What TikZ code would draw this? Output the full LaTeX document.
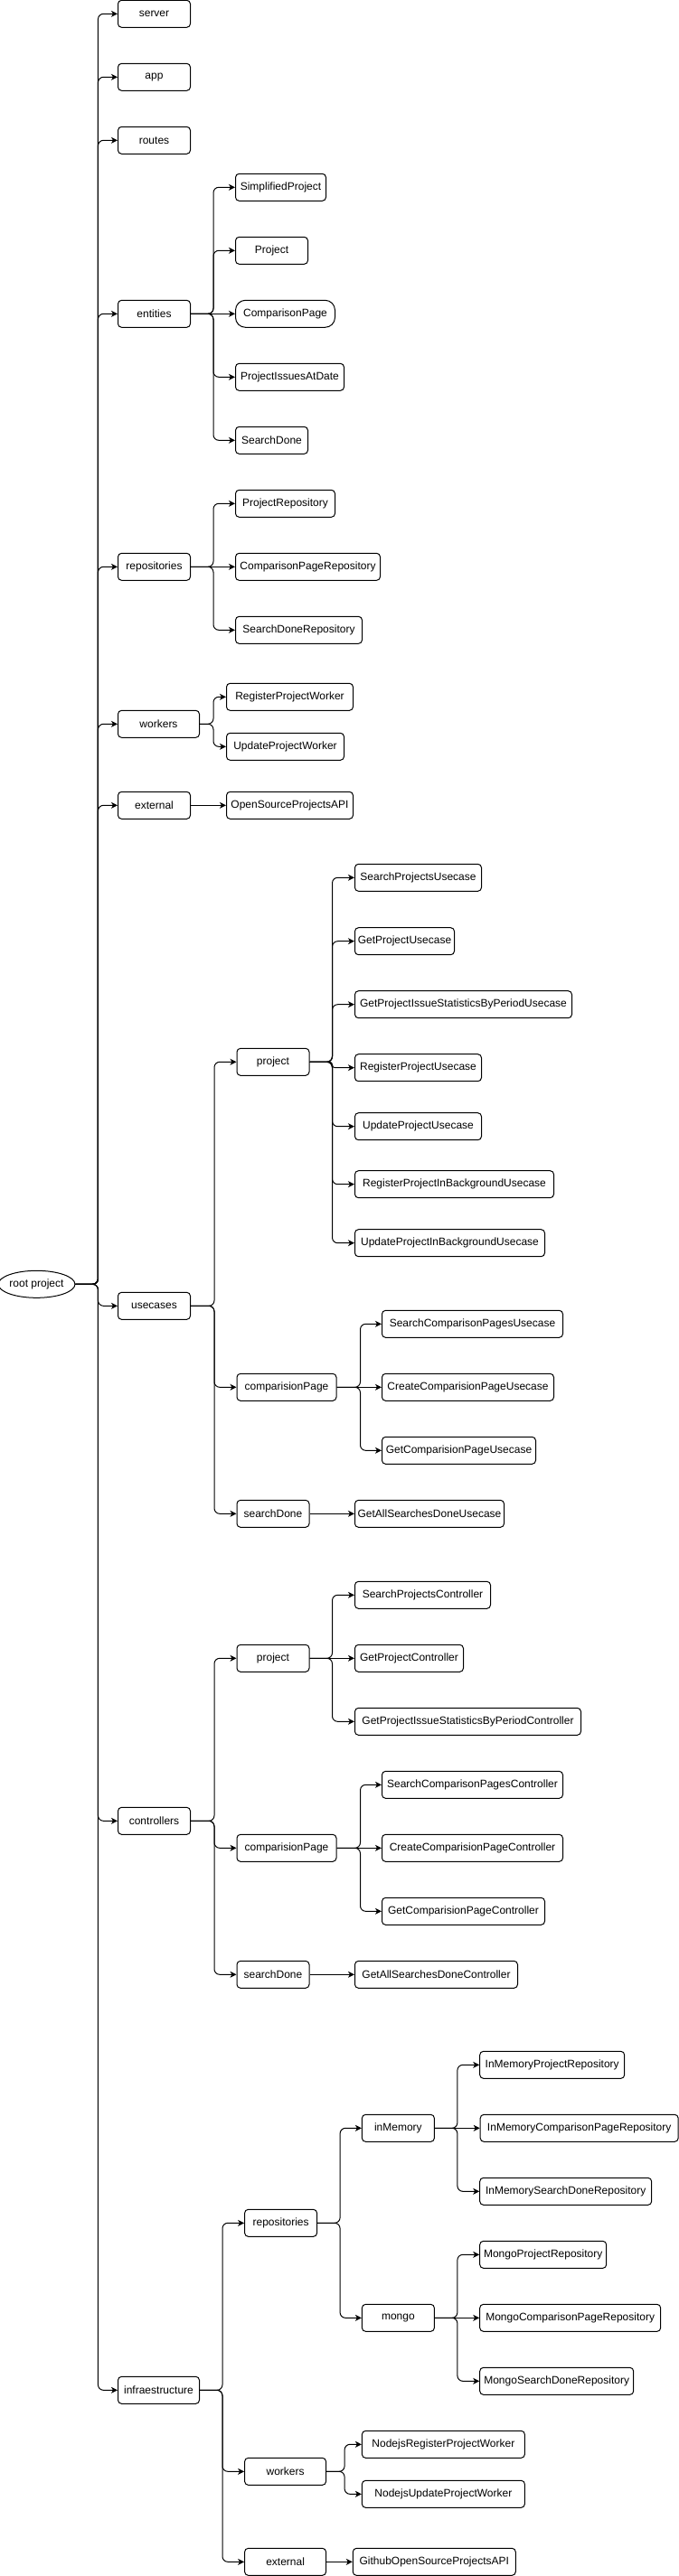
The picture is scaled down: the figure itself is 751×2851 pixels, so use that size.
\documentclass[tikz,border=0pt]{standalone}
\usepackage{fontspec}
\setmainfont{Liberation Sans}
\usetikzlibrary{arrows.meta,shapes.geometric}
\newcommand\mybox[4]{\node[box,minimum width=#3pt] (#1) at (#2) {#4};}
\newcommand\myedge[3]{\draw[conn] (#1.east) -- ++(#3pt,0pt) |- (#2.west);}
\newcommand\mystraight[2]{\draw[conn] (#1.east) -- (#2.west);}
\begin{document}
\begin{tikzpicture}[x=1pt,y=-1pt,
  box/.style={draw, line width=1pt, rounded corners=4pt, minimum height=30pt, inner sep=0pt, font=\fontsize{12}{14}\selectfont},
  conn/.style={draw, line width=1pt, rounded corners=6pt, -{Stealth[length=7pt,width=7pt,inset=2pt]}}]
\useasboundingbox (0,0) rectangle (751,2851);

% root
\node[draw, line width=1pt, ellipse, minimum width=79pt, minimum height=30pt, inner sep=0pt, font=\fontsize{12}{14}\selectfont] (root) at (40.5,1421.3) {root project};

% level 1
\mybox{server}{170.5,15.3}{80}{server}
\mybox{app}{170.5,85.3}{80}{app}
\mybox{routes}{170.5,155.3}{80}{routes}
\mybox{entities}{170.5,347.3}{80}{entities}
\mybox{repos}{170.5,627.3}{80}{repositories}
\mybox{workers}{175.5,801.3}{90}{workers}
\mybox{external}{170.5,891.3}{80}{external}
\mybox{usecases}{170.5,1445.3}{80}{usecases}
\mybox{controllers}{170.5,2015.3}{80}{controllers}
\mybox{infra}{175.5,2645.3}{90}{infraestructure}

% entities children
\mybox{simp}{310.5,207.3}{100}{SimplifiedProject}
\mybox{proj}{300.5,277.3}{80}{Project}
\node[box, rounded corners=11pt, minimum width=110pt] (cmpage) at (315.5,347.3) {ComparisonPage};
\mybox{pissues}{320.5,417.3}{120}{ProjectIssuesAtDate}
\mybox{sdone}{300.5,487.3}{80}{SearchDone}

% repositories children
\mybox{projrepo}{315.5,557.3}{110}{ProjectRepository}
\mybox{cmprepo}{340.5,627.3}{160}{ComparisonPageRepository}
\mybox{sdrepo}{330.5,697.3}{140}{SearchDoneRepository}

% workers children
\mybox{regw}{320.5,771.3}{140}{RegisterProjectWorker}
\mybox{updw}{315.5,826.3}{130}{UpdateProjectWorker}

% external child
\mybox{osapi}{320.5,891.3}{140}{OpenSourceProjectsAPI}

% usecases
\mybox{ucproj}{302,1175.3}{80}{project}
\mybox{uccmp}{317,1535.3}{110}{comparisionPage}
\mybox{ucsd}{302,1675.3}{80}{searchDone}

\mybox{ucA}{462.5,971.3}{140}{SearchProjectsUsecase}
\mybox{ucB}{447.5,1041.7}{110}{GetProjectUsecase}
\mybox{ucC}{512.5,1111.7}{240}{GetProjectIssueStatisticsByPeriodUsecase}
\mybox{ucD}{462.5,1181.7}{140}{RegisterProjectUsecase}
\mybox{ucE}{462.5,1246.7}{140}{UpdateProjectUsecase}
\mybox{ucF}{502.5,1310.7}{220}{RegisterProjectInBackgroundUsecase}
\mybox{ucG}{497.5,1375.7}{210}{UpdateProjectInBackgroundUsecase}

\mybox{ucH}{522.5,1465.3}{200}{SearchComparisonPagesUsecase}
\mybox{ucI}{517.5,1535.3}{190}{CreateComparisionPageUsecase}
\mybox{ucJ}{507.5,1605.3}{170}{GetComparisionPageUsecase}
\mybox{ucK}{475,1675.3}{165}{GetAllSearchesDoneUsecase}

% controllers
\mybox{ctproj}{302,1835.3}{80}{project}
\mybox{ctcmp}{317,2045.3}{110}{comparisionPage}
\mybox{ctsd}{302,2185.3}{80}{searchDone}

\mybox{ctA}{467.5,1765.3}{150}{SearchProjectsController}
\mybox{ctB}{452.5,1835.3}{120}{GetProjectController}
\mybox{ctC}{517.5,1905.3}{250}{GetProjectIssueStatisticsByPeriodController}
\mybox{ctD}{522.5,1975.3}{200}{SearchComparisonPagesController}
\mybox{ctE}{522.5,2045.3}{200}{CreateComparisionPageController}
\mybox{ctF}{512.5,2115.3}{180}{GetComparisionPageController}
\mybox{ctG}{482.5,2185.3}{180}{GetAllSearchesDoneController}

% infraestructure
\mybox{irepos}{310.6,2460.3}{80}{repositories}
\mybox{iworkers}{315.6,2735.3}{90}{workers}
\mybox{iext}{315.6,2835.3}{90}{external}

\mybox{inmem}{440.4,2355.3}{80}{inMemory}
\mybox{mongo}{440.4,2565.3}{80}{mongo}

\mybox{imA}{610.7,2285.3}{160}{InMemoryProjectRepository}
\mybox{imB}{640.7,2355.3}{219}{InMemoryComparisonPageRepository}
\mybox{imC}{625.7,2425.3}{190}{InMemorySearchDoneRepository}
\mybox{moA}{600.7,2495.3}{140}{MongoProjectRepository}
\mybox{moB}{630.7,2565.3}{200}{MongoComparisonPageRepository}
\mybox{moC}{615.7,2635.3}{170}{MongoSearchDoneRepository}

\mybox{nrw}{490.4,2705.3}{180}{NodejsRegisterProjectWorker}
\mybox{nuw}{490.4,2760.3}{180}{NodejsUpdateProjectWorker}
\mybox{gh}{480.3,2835.3}{180}{GithubOpenSourceProjectsAPI}

% ---- connectors
\foreach \c in {server,app,routes,entities,repos,workers,external,usecases,controllers,infra}
  {\myedge{root}{\c}{25}}

\myedge{entities}{simp}{25}
\myedge{entities}{proj}{25}
\mystraight{entities}{cmpage}
\myedge{entities}{pissues}{25}
\myedge{entities}{sdone}{25}

\myedge{repos}{projrepo}{25}
\mystraight{repos}{cmprepo}
\myedge{repos}{sdrepo}{25}

\myedge{workers}{regw}{15}
\myedge{workers}{updw}{15}
\mystraight{external}{osapi}

\myedge{usecases}{ucproj}{26}
\myedge{usecases}{uccmp}{26}
\myedge{usecases}{ucsd}{26}

\myedge{ucproj}{ucA}{25}
\myedge{ucproj}{ucB}{25}
\myedge{ucproj}{ucC}{25}
\draw[conn, rounded corners=3pt] (ucproj.east) -- ++(25pt,0pt) |- (ucD.west);
\myedge{ucproj}{ucE}{25}
\myedge{ucproj}{ucF}{25}
\myedge{ucproj}{ucG}{25}

\myedge{uccmp}{ucH}{26}
\mystraight{uccmp}{ucI}
\myedge{uccmp}{ucJ}{26}
\mystraight{ucsd}{ucK}

\myedge{controllers}{ctproj}{26}
\myedge{controllers}{ctcmp}{26}
\myedge{controllers}{ctsd}{26}

\myedge{ctproj}{ctA}{25}
\mystraight{ctproj}{ctB}
\myedge{ctproj}{ctC}{25}
\myedge{ctcmp}{ctD}{26}
\mystraight{ctcmp}{ctE}
\myedge{ctcmp}{ctF}{26}
\mystraight{ctsd}{ctG}

\myedge{infra}{irepos}{25}
\myedge{infra}{iworkers}{25}
\myedge{infra}{iext}{25}

\myedge{irepos}{inmem}{25}
\myedge{irepos}{mongo}{25}

\myedge{inmem}{imA}{25}
\mystraight{inmem}{imB}
\myedge{inmem}{imC}{25}
\myedge{mongo}{moA}{25}
\mystraight{mongo}{moB}
\myedge{mongo}{moC}{25}

\myedge{iworkers}{nrw}{20}
\myedge{iworkers}{nuw}{20}
\mystraight{iext}{gh}
\end{tikzpicture}
\end{document}
